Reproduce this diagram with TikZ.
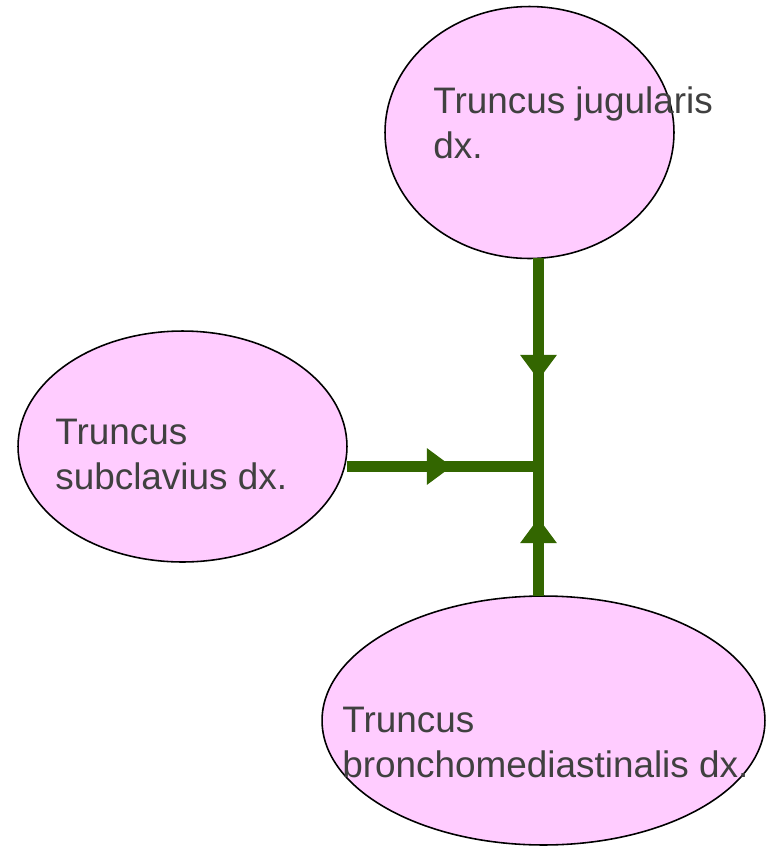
\documentclass[tikz,border=0pt]{standalone}
\usepackage{fontspec}
\setmainfont{Liberation Sans}
\definecolor{lymphpink}{RGB}{255,204,255}
\definecolor{vesselgreen}{RGB}{51,102,0}
\definecolor{labelgray}{RGB}{64,64,64}
\usetikzlibrary{arrows.meta, positioning, calc, shapes.geometric, decorations.markings}

\begin{document}
\begin{tikzpicture}[x=0.02cm, y=-0.02cm,
    trunk/.style={ellipse, draw=black, line width=0.9pt, fill=lymphpink, inner sep=0pt, outer sep=0pt},
    trunklabel/.style={anchor=base west, align=left, inner sep=0pt, text=labelgray,
      font=\fontsize{21}{25.3}\selectfont},
    vessel/.style={draw=vesselgreen, line width=0.22cm},
    midarrow/.style={postaction={decorate, decoration={markings,
      mark=at position #1 with {\arrow{Triangle[length=0.5cm, width=0.7cm]}}}}}]
  \useasboundingbox (0,0) rectangle (769,846);

  % Trunks
  \node[trunk, minimum width=5.78cm, minimum height=5.04cm] (jug) at (529.5,132.5) {};
  \node[trunk, minimum width=6.58cm, minimum height=4.62cm] (sub) at (182.5,446.5) {};
  \node[trunk, minimum width=8.86cm, minimum height=4.98cm] (bron) at (543.5,720.5) {};

  % Labels (base = last line)
  \node[trunklabel] (jugtext) at (433,158) {Truncus jugularis\\dx.};
  \node[trunklabel] (subtext) at (55,489) {Truncus\\subclavius dx.};
  \node[trunklabel] (brontext) at (342,777) {Truncus\\bronchomediastinalis dx.};

  % Junction
  \coordinate (jn) at (538.5,466.5);

  % Vessels
  \draw[vessel, midarrow=0.584] (jn |- jug.south) -- (jn);
  \draw[vessel, midarrow=0.548] (sub.east |- jn) -- (jn);
  \draw[vessel, midarrow=0.602] (jn |- bron.north) -- (jn);
\end{tikzpicture}
\end{document}
